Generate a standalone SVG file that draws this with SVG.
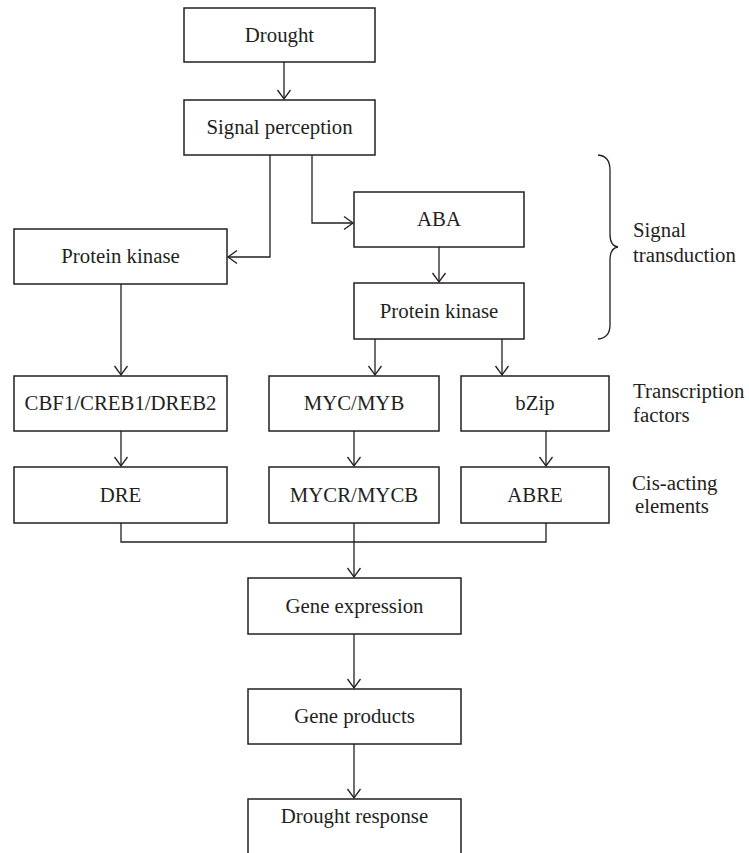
<svg xmlns="http://www.w3.org/2000/svg" width="749" height="853" viewBox="0 0 749 853">
<defs>
<style>
.box{fill:#fff;stroke:#231f20;stroke-width:1.5}
.t{font-family:"Liberation Serif","Times New Roman",serif;font-size:20.8px;fill:#231f20;text-anchor:middle}
.lbl{font-family:"Liberation Serif","Times New Roman",serif;font-size:20.8px;fill:#231f20}
.c{fill:none;stroke:#231f20;stroke-width:1.3}
</style>
<marker id="ah" markerUnits="userSpaceOnUse" markerWidth="20" markerHeight="20" refX="0" refY="0" viewBox="-12 -10 14 20" orient="auto">
<path d="M-9,-6.5 L0,0 L-9,6.5" fill="none" stroke="#231f20" stroke-width="1.3"/>
</marker>
</defs>
<rect width="749" height="853" fill="#fff"/>
<g id="connectors">
<path class="c" d="M284,62 V99" marker-end="url(#ah)"/>
<path class="c" d="M270,155 V257 H228" marker-end="url(#ah)"/>
<path class="c" d="M312,155 V223 H353" marker-end="url(#ah)"/>
<path class="c" d="M439,247 V282" marker-end="url(#ah)"/>
<path class="c" d="M121,284 V375" marker-end="url(#ah)"/>
<path class="c" d="M375,339 V375" marker-end="url(#ah)"/>
<path class="c" d="M502,339 V375" marker-end="url(#ah)"/>
<path class="c" d="M121,431 V466" marker-end="url(#ah)"/>
<path class="c" d="M354,431 V466" marker-end="url(#ah)"/>
<path class="c" d="M546,431 V466" marker-end="url(#ah)"/>
<path class="c" d="M121,523 V542 H546 V523"/>
<path class="c" d="M354,523 V542"/>
<path class="c" d="M354,542 V577" marker-end="url(#ah)"/>
<path class="c" d="M354,634 V688" marker-end="url(#ah)"/>
<path class="c" d="M354,744 V798" marker-end="url(#ah)"/>
</g>
<g id="drought"><rect class="box" x="184" y="8" width="191" height="54"/><text class="t" x="279.5" y="42">Drought</text></g>
<g id="signal-perception"><rect class="box" x="184" y="100" width="191" height="55"/><text class="t" x="279.5" y="134">Signal perception</text></g>
<g id="protein-kinase-1"><rect class="box" x="14" y="229" width="213" height="55"/><text class="t" x="120.5" y="263">Protein kinase</text></g>
<g id="aba"><rect class="box" x="354" y="192" width="170" height="55"/><text class="t" x="439" y="226">ABA</text></g>
<g id="protein-kinase-2"><rect class="box" x="354" y="283" width="170" height="56"/><text class="t" x="439" y="318">Protein kinase</text></g>
<g id="cbf1"><rect class="box" x="14" y="376" width="213" height="55"/><text class="t" x="120.5" y="410">CBF1/CREB1/DREB2</text></g>
<g id="myc"><rect class="box" x="269" y="376" width="170" height="55"/><text class="t" x="354" y="410">MYC/MYB</text></g>
<g id="bzip"><rect class="box" x="461" y="376" width="148" height="55"/><text class="t" x="535" y="410">bZip</text></g>
<g id="dre"><rect class="box" x="14" y="467" width="213" height="56"/><text class="t" x="120.5" y="502">DRE</text></g>
<g id="mycr"><rect class="box" x="269" y="467" width="170" height="56"/><text class="t" x="354" y="502">MYCR/MYCB</text></g>
<g id="abre"><rect class="box" x="461" y="467" width="148" height="56"/><text class="t" x="535" y="502">ABRE</text></g>
<g id="gene-expression"><rect class="box" x="248" y="578" width="213" height="56"/><text class="t" x="354.5" y="613">Gene expression</text></g>
<g id="gene-products"><rect class="box" x="248" y="689" width="213" height="55"/><text class="t" x="354.5" y="723">Gene products</text></g>
<g id="drought-response"><rect class="box" x="248" y="799" width="213" height="70"/><text class="t" x="354.5" y="823">Drought response</text></g>
<g id="signal-transduction">
<path class="c" d="M598,155 Q610,156 610,170 L610,234 Q610,246 618,247 Q610,248 610,260 L610,325 Q610,338 598,339"/>
<text class="lbl" x="633" y="237">Signal</text>
<text class="lbl" x="633" y="262">transduction</text>
</g>
<g id="transcription-factors">
<text class="lbl" x="633" y="398">Transcription</text>
<text class="lbl" x="633" y="422">factors</text>
</g>
<g id="cis-acting">
<text class="lbl" x="632" y="490">Cis-acting</text>
<text class="lbl" x="635" y="513">elements</text>
</g>
</svg>
